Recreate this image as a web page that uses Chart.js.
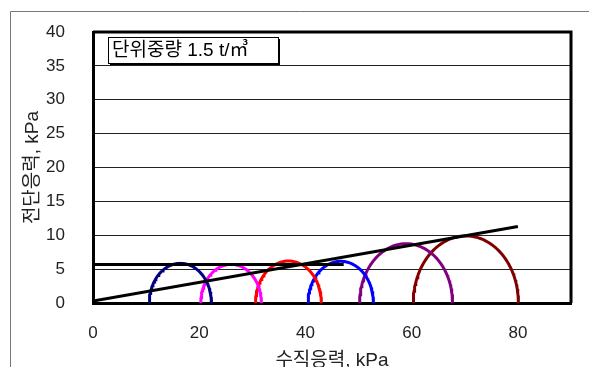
<!DOCTYPE html>
<html>
<head>
<meta charset="utf-8">
<script src="https://cdn.jsdelivr.net/npm/chart.js@4/dist/chart.umd.min.js"></script>
<style>
  html, body { margin: 0; padding: 0; background: #fff; }
  #wrap { width: 589px; height: 367px; }
</style>
</head>
<body>
<div id="wrap"><canvas id="mohr-chart" width="589" height="367"></canvas></div>
<script>
// Mohr circles: minor / major principal stress (kPa)
const sigma3 = [10.6, 20.3, 30.6, 40.5, 50.2, 60.3];
const sigma1 = [22.3, 31.7, 43.0, 52.8, 67.7, 80.1];
const circleColors = ['#000080', '#FF00FF', '#FF0000', '#0000FF', '#800080', '#800000'];

// failure envelope and horizontal line
const envelopeX = [0, 80];
const envelopeY = [0.3, 11.3];
const levelX = [0, 47.2];
const levelY = [5.7, 5.7];

const xTicks = [0, 20, 40, 60, 80];
const yTicks = [0, 5, 10, 15, 20, 25, 30, 35, 40];
const boxLabel = '단위중량 1.5 t/㎥';

const FONT = "'Liberation Sans', 'Noto Sans CJK KR', sans-serif";

function semicircle(s3, s1) {
  const c = (s1 + s3) / 2, r = (s1 - s3) / 2;
  const pts = [];
  for (let i = 0; i <= 90; i++) {
    const t = Math.PI - Math.PI * i / 90;
    pts.push({ x: c + r * Math.cos(t), y: r * Math.sin(t) });
  }
  return pts;
}

const datasets = [
  {
    data: envelopeX.map((x, i) => ({ x: x, y: envelopeY[i] })),
    borderColor: '#000', borderWidth: 3, order: 0
  },
  {
    data: levelX.map((x, i) => ({ x: x, y: levelY[i] })),
    borderColor: '#000', borderWidth: 3, order: 0
  }
];
sigma3.forEach((s3, i) => {
  datasets.push({
    data: semicircle(s3, sigma1[i]),
    borderColor: circleColors[i], borderWidth: 3, order: 1
  });
});
datasets.forEach(d => { d.showLine = true; d.pointRadius = 0; d.fill = false; });

const framePlugin = {
  id: 'frame',
  beforeDraw(chart) {
    const c = chart.ctx;
    c.save();
    c.strokeStyle = '#777';
    c.lineWidth = 1;
    c.beginPath();
    c.moveTo(10.5, 367);
    c.lineTo(10.5, 11.5);
    c.lineTo(589, 11.5);
    c.stroke();
    c.restore();
  },
  afterDraw(chart) {
    const a = chart.chartArea;
    const c = chart.ctx;
    c.save();
    c.strokeStyle = '#000';
    c.lineWidth = 3;
    c.beginPath();
    c.moveTo(a.left, a.top);
    c.lineTo(a.right, a.top);
    c.lineTo(a.right, a.bottom);
    c.stroke();
    // label box with shadow
    const bx = 108, by = 37, bw = 170, bh = 26;
    c.fillStyle = '#000';
    c.fillRect(bx + 2, by + 2, bw, bh);
    c.fillStyle = '#fff';
    c.fillRect(bx, by, bw, bh);
    c.lineWidth = 1;
    c.strokeRect(bx + 0.5, by + 0.5, bw, bh);
    c.fillStyle = '#000';
    c.font = '19px ' + FONT;
    c.textBaseline = 'middle';
    c.fillText(boxLabel, bx + 4, by + bh / 2 + 1, bw - 6);
    c.restore();
  }
};

function noPad(s) {
  s.paddingTop = 0; s.paddingBottom = 0; s.paddingLeft = 0; s.paddingRight = 0;
}

new Chart(document.getElementById('mohr-chart'), {
  type: 'scatter',
  data: { datasets: datasets },
  plugins: [framePlugin],
  options: {
    responsive: false,
    animation: false,
    layout: { padding: { left: 10, top: 32, right: 18, bottom: 0 } },
    plugins: { legend: { display: false }, tooltip: { enabled: false } },
    scales: {
      x: {
        type: 'linear', min: 0, max: 90,
        afterFit(s) { s.height = 64; noPad(s); },
        afterBuildTicks(s) { s.ticks = xTicks.map(v => ({ value: v })); },
        grid: { display: false, drawTicks: false },
        border: { display: true, color: '#000', width: 3 },
        ticks: { padding: 20, color: '#222', font: { family: FONT, size: 17 } },
        title: { display: true, text: '수직응력, kPa', color: '#222',
                 font: { family: FONT, size: 19 }, padding: { top: 0, bottom: -5 } }
      },
      y: {
        type: 'linear', min: 0, max: 40,
        afterFit(s) { s.width = 83; noPad(s); },
        afterBuildTicks(s) { s.ticks = yTicks.map(v => ({ value: v })); },
        grid: { color: '#222', lineWidth: 1, drawTicks: false },
        border: { display: true, color: '#000', width: 3 },
        ticks: { padding: 28, color: '#222', font: { family: FONT, size: 17 } },
        title: { display: true, text: '전단응력, kPa', color: '#222',
                 font: { family: FONT, size: 19 }, padding: { top: 11, bottom: 0 } }
      }
    }
  }
});
</script>
</body>
</html>
